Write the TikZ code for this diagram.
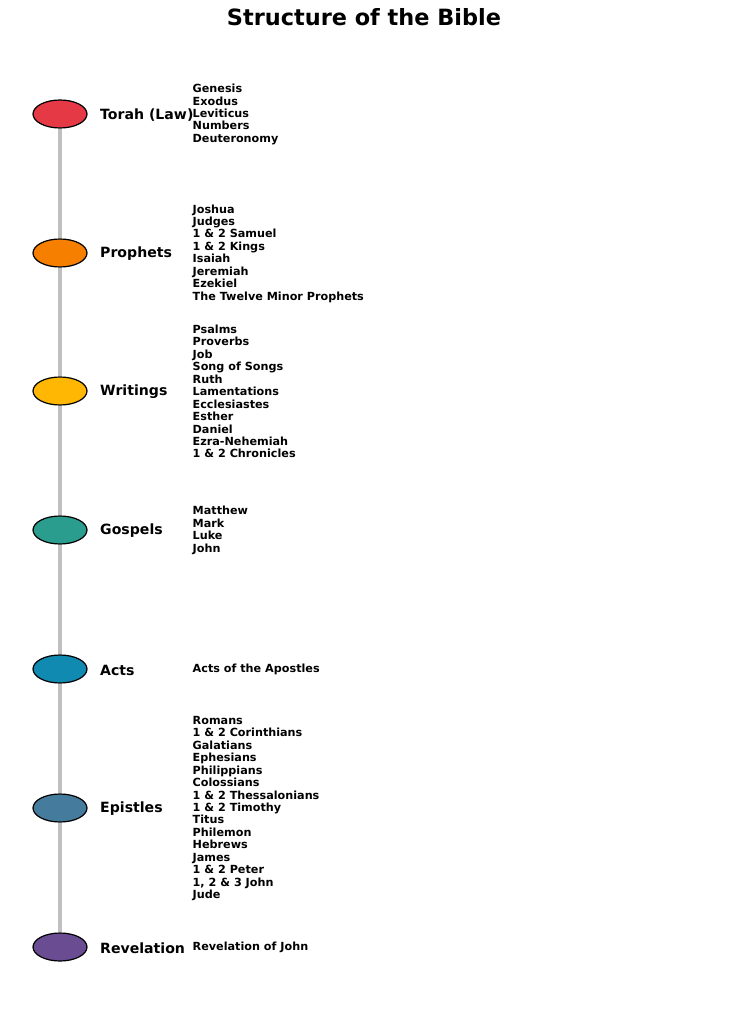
\documentclass[tikz,border=0pt]{standalone}
\usepackage{fontspec}
\setmainfont{DejaVu Sans}
\usetikzlibrary{shapes.geometric}

\definecolor{torahred}{RGB}{230,57,70}
\definecolor{prophorange}{RGB}{247,127,0}
\definecolor{writyellow}{RGB}{255,183,3}
\definecolor{gospteal}{RGB}{42,157,143}
\definecolor{actsblue}{RGB}{17,138,178}
\definecolor{epistblue}{RGB}{69,123,157}
\definecolor{revpurple}{RGB}{106,76,147}
\definecolor{spinegray}{RGB}{192,192,192}

\begin{document}
\begin{tikzpicture}[x=1pt,y=1pt,yscale=-1,xscale=1,
  stage/.style={ellipse,draw=black,line width=1.2pt,minimum width=54pt,minimum height=28pt,inner sep=0pt},
  part/.style={anchor=west,inner sep=0pt,font=\fontsize{14.1}{16}\selectfont\bfseries},
  books/.style={anchor=west,inner sep=0pt,align=left,font=\fontsize{11.2}{12.45}\selectfont\bfseries},
  spineline/.style={color=spinegray,line width=3.2pt}]
\useasboundingbox (0,0) rectangle (729,1024);

% Title
\node (title) at (364,17) [font=\fontsize{22.4}{26}\selectfont\bfseries] {Structure of the Bible};

% Stage Nodes
\node (torah) at (60,114) [stage,fill=torahred] {};
\node (prophets) at (60,253) [stage,fill=prophorange] {};
\node (writings) at (60,391) [stage,fill=writyellow] {};
\node (gospels) at (60,530) [stage,fill=gospteal] {};
\node (acts) at (60,669) [stage,fill=actsblue] {};
\node (epistles) at (60,808) [stage,fill=epistblue] {};
\node (revelation) at (60,947) [stage,fill=revpurple] {};

% Connection
\draw [spineline] (torah) -- (prophets);
\draw [spineline] (prophets) -- (writings);
\draw [spineline] (writings) -- (gospels);
\draw [spineline] (gospels) -- (acts);
\draw [spineline] (acts) -- (epistles);
\draw [spineline] (epistles) -- (revelation);

% Text Node
\node (torahlbl) at (100,115) [part] {Torah (Law)};
\node (prophetslbl) at (100,254) [part] {Prophets};
\node (writingslbl) at (100,392) [part] {Writings};
\node (gospelslbl) at (100,531) [part] {Gospels};
\node (actslbl) at (100,670) [part] {Acts};
\node (epistleslbl) at (100,809) [part] {Epistles};
\node (revelationlbl) at (100,948) [part] {Revelation};

% Text Node
\node (torahbooks) at (192.5,114.5) [books] {Genesis\\Exodus\\Leviticus\\Numbers\\Deuteronomy};
\node (prophetsbooks) at (192.5,253.5) [books] {Joshua\\Judges\\1 \& 2 Samuel\\1 \& 2 Kings\\Isaiah\\Jeremiah\\Ezekiel\\The Twelve Minor Prophets};
\node (writingsbooks) at (192.5,391.5) [books] {Psalms\\Proverbs\\Job\\Song of Songs\\Ruth\\Lamentations\\Ecclesiastes\\Esther\\Daniel\\Ezra-Nehemiah\\1 \& 2 Chronicles};
\node (gospelsbooks) at (192.5,530.5) [books] {Matthew\\Mark\\Luke\\John};
\node (actsbooks) at (192.5,669.5) [books] {Acts of the Apostles};
\node (epistlesbooks) at (192.5,808.5) [books] {Romans\\1 \& 2 Corinthians\\Galatians\\Ephesians\\Philippians\\Colossians\\1 \& 2 Thessalonians\\1 \& 2 Timothy\\Titus\\Philemon\\Hebrews\\James\\1 \& 2 Peter\\1, 2 \& 3 John\\Jude};
\node (revelationbooks) at (192.5,947.5) [books] {Revelation of John};

\end{tikzpicture}
\end{document}
